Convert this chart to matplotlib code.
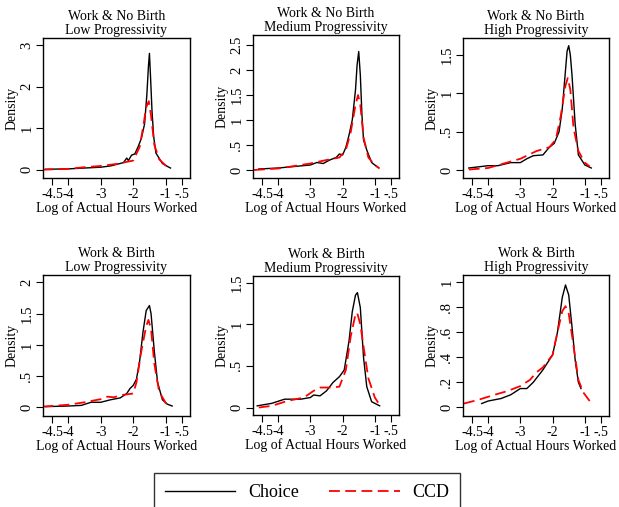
import numpy as np
import matplotlib
matplotlib.use("Agg")
import matplotlib.pyplot as plt
from matplotlib.lines import Line2D

plt.rcParams['font.family'] = ['Liberation Serif', 'DejaVu Serif']

titles = ["Work & No Birth\nLow Progressivity",
          "Work & No Birth\nMedium Progressivity",
          "Work & No Birth\nHigh Progressivity",
          "Work & Birth\nLow Progressivity",
          "Work & Birth\nMedium Progressivity",
          "Work & Birth\nHigh Progressivity"]
xlabel = "Log of Actual Hours Worked"
xticks = [-4.5, -4, -3, -2, -1, -0.5]
xticklabels = ["-4.5", "-4", "-3", "-2", "-1", "-.5"]

# Work & No Birth, Low
choice1_x = [-4.7, -4.0, -3.5, -3.0, -2.7, -2.5, -2.3, -2.2, -2.15, -2.05, -1.95, -1.85, -1.75, -1.65, -1.58, -1.53, -1.5, -1.47, -1.42, -1.37, -1.3, -1.1, -0.95, -0.85]
choice1_y = [0.01, 0.02, 0.04, 0.06, 0.09, 0.13, 0.17, 0.28, 0.22, 0.35, 0.38, 0.55, 0.75, 1.1, 1.8, 2.5, 2.8, 2.3, 1.4, 0.8, 0.4, 0.15, 0.08, 0.04]
ccd1_x = [-4.8, -4.0, -3.5, -3.0, -2.5, -2.0, -1.8, -1.7, -1.6, -1.52, -1.45, -1.35, -1.2, -1.0, -0.85]
ccd1_y = [0.0, 0.02, 0.06, 0.09, 0.14, 0.22, 0.55, 1.0, 1.5, 1.65, 1.3, 0.6, 0.25, 0.1, 0.04]

# Work & No Birth, Medium
choice2_x = [-4.6, -4.0, -3.5, -3.0, -2.8, -2.6, -2.4, -2.2, -2.1, -2.0, -1.9, -1.8, -1.7, -1.6, -1.55, -1.5, -1.45, -1.4, -1.35, -1.25, -1.1, -0.9]
choice2_y = [0.02, 0.04, 0.07, 0.1, 0.15, 0.13, 0.2, 0.25, 0.32, 0.3, 0.45, 0.7, 1.0, 1.6, 2.1, 2.37, 1.9, 1.1, 0.6, 0.4, 0.15, 0.05]
ccd2_x = [-4.75, -4.0, -3.5, -3.0, -2.5, -2.1, -1.9, -1.75, -1.6, -1.52, -1.45, -1.35, -1.2, -1.0, -0.85]
ccd2_y = [0.0, 0.03, 0.08, 0.13, 0.2, 0.25, 0.4, 0.75, 1.3, 1.5, 1.3, 0.65, 0.25, 0.1, 0.03]

# Work & No Birth, High
choice3_x = [-4.6, -4.0, -3.7, -3.3, -3.0, -2.8, -2.6, -2.3, -2.1, -1.95, -1.8, -1.7, -1.6, -1.55, -1.5, -1.45, -1.4, -1.3, -1.2, -1.0, -0.8]
choice3_y = [0.03, 0.06, 0.06, 0.1, 0.1, 0.15, 0.19, 0.2, 0.3, 0.35, 0.5, 0.8, 1.3, 1.55, 1.62, 1.5, 1.25, 0.6, 0.2, 0.07, 0.03]
ccd3_x = [-4.6, -4.0, -3.5, -3.0, -2.5, -2.1, -1.9, -1.75, -1.6, -1.53, -1.45, -1.35, -1.2, -1.0, -0.85]
ccd3_y = [0.01, 0.03, 0.09, 0.15, 0.25, 0.3, 0.4, 0.7, 1.1, 1.2, 1.05, 0.55, 0.25, 0.1, 0.05]

# Work & Birth, Low
choice4_x = [-4.7, -4.0, -3.6, -3.3, -3.0, -2.7, -2.4, -2.2, -2.1, -2.0, -1.9, -1.8, -1.7, -1.6, -1.5, -1.45, -1.35, -1.25, -1.1, -0.95, -0.8]
choice4_y = [0.01, 0.02, 0.03, 0.08, 0.08, 0.12, 0.15, 0.22, 0.3, 0.35, 0.45, 0.75, 1.2, 1.55, 1.63, 1.5, 0.9, 0.4, 0.12, 0.05, 0.02]
ccd4_x = [-4.8, -4.0, -3.5, -3.0, -2.8, -2.6, -2.3, -2.0, -1.9, -1.75, -1.6, -1.53, -1.45, -1.35, -1.2, -1.0, -0.85]
ccd4_y = [0.01, 0.04, 0.08, 0.13, 0.17, 0.16, 0.2, 0.22, 0.4, 0.9, 1.3, 1.4, 1.25, 0.7, 0.25, 0.07, 0.02]

# Work & Birth, Medium
choice5_x = [-4.65, -4.2, -3.8, -3.3, -3.0, -2.9, -2.7, -2.5, -2.3, -2.1, -1.95, -1.8, -1.7, -1.6, -1.54, -1.45, -1.35, -1.25, -1.1, -0.85]
choice5_y = [0.02, 0.05, 0.1, 0.1, 0.12, 0.15, 0.14, 0.2, 0.3, 0.37, 0.45, 0.8, 1.15, 1.35, 1.38, 1.2, 0.6, 0.25, 0.07, 0.02]
ccd5_x = [-4.6, -4.2, -3.7, -3.2, -2.9, -2.7, -2.4, -2.1, -1.9, -1.75, -1.6, -1.55, -1.45, -1.3, -1.2, -1.0, -0.85]
ccd5_y = [0.0, 0.02, 0.08, 0.12, 0.2, 0.24, 0.24, 0.25, 0.45, 0.85, 1.12, 1.14, 1.0, 0.6, 0.35, 0.12, 0.03]

# Work & Birth, High
choice6_x = [-4.2, -4.0, -3.6, -3.3, -3.0, -2.8, -2.6, -2.3, -2.0, -1.85, -1.7, -1.6, -1.5, -1.4, -1.3, -1.2, -1.12]
choice6_y = [0.03, 0.05, 0.07, 0.1, 0.15, 0.15, 0.2, 0.3, 0.42, 0.6, 0.88, 0.98, 0.9, 0.65, 0.38, 0.2, 0.15]
ccd6_x = [-4.75, -4.3, -3.8, -3.4, -3.0, -2.7, -2.5, -2.3, -2.0, -1.85, -1.7, -1.6, -1.5, -1.4, -1.3, -1.2, -1.05, -0.85]
ccd6_y = [0.03, 0.06, 0.1, 0.13, 0.17, 0.22, 0.28, 0.32, 0.42, 0.6, 0.77, 0.81, 0.75, 0.58, 0.4, 0.22, 0.12, 0.05]

yticks = [[0, 1, 2, 3], [0, .5, 1, 1.5, 2, 2.5], [0, .5, 1, 1.5],
          [0, .5, 1, 1.5, 2], [0, .5, 1, 1.5], [0, .2, .4, .6, .8, 1]]
yticklabels = [["0", "1", "2", "3"], ["0", ".5", "1", "1.5", "2", "2.5"],
               ["0", ".5", "1", "1.5"], ["0", ".5", "1", "1.5", "2"],
               ["0", ".5", "1", "1.5"], ["0", ".2", ".4", ".6", ".8", "1"]]
ylims = [(-0.2, 3.17), (-0.16, 2.7), (-0.1, 1.72), (-0.14, 2.12), (-0.09, 1.58), (-0.07, 1.06)]

choices = [(choice1_x, choice1_y), (choice2_x, choice2_y), (choice3_x, choice3_y),
           (choice4_x, choice4_y), (choice5_x, choice5_y), (choice6_x, choice6_y)]
ccds = [(ccd1_x, ccd1_y), (ccd2_x, ccd2_y), (ccd3_x, ccd3_y),
        (ccd4_x, ccd4_y), (ccd5_x, ccd5_y), (ccd6_x, ccd6_y)]

W, H = 619, 507
# axes boxes in pixels: left, right, top, bottom
boxes = [(43, 190, 38, 178), (253, 399, 35, 178), (463, 609, 38, 178),
         (43, 190, 275, 416), (253, 399, 276, 415), (463, 609, 275, 416)]

fig = plt.figure(figsize=(W / 100, H / 100), dpi=100)
for i in range(6):
    l, r, t, b = boxes[i]
    ax = fig.add_axes([l / W, 1 - b / H, (r - l) / W, (b - t) / H])
    ax.plot(choices[i][0], choices[i][1], color='black', lw=1.0)
    ax.plot(ccds[i][0], ccds[i][1], color='red', lw=1.3, dashes=(6, 3))
    ax.set_xlim(-4.78, -0.25)
    ax.set_ylim(*ylims[i])
    ax.set_xticks(xticks)
    ax.set_xticklabels(xticklabels, fontsize=10)
    ax.set_yticks(yticks[i])
    ax.set_yticklabels(yticklabels[i], fontsize=10.5, rotation=90, va='center')
    ax.tick_params(length=5, width=0.8, pad=2)
    ax.set_xlabel(xlabel, fontsize=10, labelpad=0)
    ax.set_ylabel("Density", fontsize=10, labelpad=1)
    ax.set_title(titles[i], fontsize=10, linespacing=1.05, pad=3)
    for s in ax.spines.values():
        s.set_linewidth(1.0)

handles = [Line2D([], [], color='black', lw=1.0),
           Line2D([], [], color='red', lw=1.3, dashes=(6, 3))]
leg = fig.legend(handles, ["Choice", "CCD"], ncol=2, loc='upper left',
                 bbox_to_anchor=(154 / W, 1 - 473 / H),
                 fontsize=13, handlelength=3.9, handletextpad=0.7,
                 columnspacing=1.7, fancybox=False, edgecolor='black',
                 borderaxespad=0, borderpad=0.6)
leg.get_frame().set_linewidth(1.0)

fig.savefig("out.png", dpi=100)
